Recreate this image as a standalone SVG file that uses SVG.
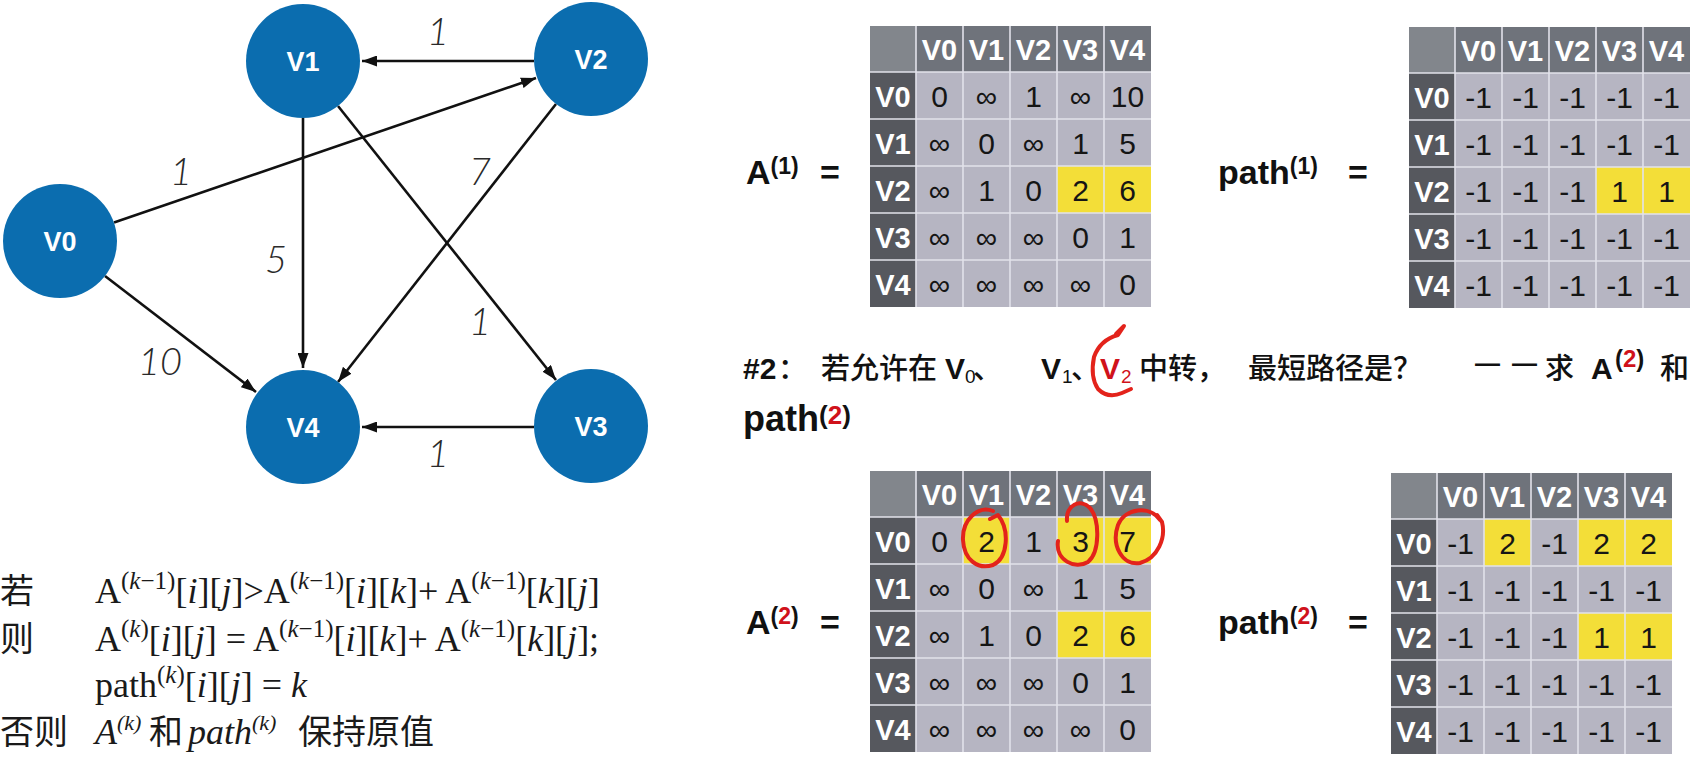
<svg xmlns="http://www.w3.org/2000/svg" width="1695" height="758" viewBox="0 0 1695 758">
<defs>
<style>
.node{fill:#0b6daf}
.nl{font-family:"Liberation Sans",Arial,sans-serif;font-weight:bold;font-size:27px;fill:#fff;text-anchor:middle}
.edge{stroke:#111;stroke-width:2.6;fill:none;marker-end:url(#arr)}
.el{font-family:Lato,"Liberation Sans",sans-serif;font-style:italic;font-weight:300;font-size:38px;fill:#2a2a2a;text-anchor:middle}
.cd{fill:#b6b5c2}.hd{fill:#6f737b}.cn{fill:#82868c}.rh{fill:#56585e}.yl{fill:#f3de38}
.grid{stroke:#e2e2ea;stroke-width:1.6;fill:none}
.th{font-family:"Liberation Sans",Arial,sans-serif;font-weight:bold;font-size:29px;fill:#fff;text-anchor:middle}
.td{font-family:"Liberation Sans","DejaVu Sans",sans-serif;font-size:30px;fill:#151515;text-anchor:middle}
.lb{font-family:"Liberation Sans",Arial,sans-serif;font-weight:bold;font-size:34px;fill:#111}
.sp{font-size:23px}
.qb{font-family:"Liberation Sans","Noto Sans CJK SC",sans-serif;font-weight:bold;font-size:30px;fill:#111}
.qs{font-family:"Liberation Sans",sans-serif;font-weight:normal;font-size:19px;fill:#111}
.qc{font-family:"Noto Sans CJK SC",sans-serif;font-weight:500;font-size:29px;fill:#111}
.sq{font-size:24px}
.m{font-family:"Liberation Serif","Times New Roman",serif;font-size:36px;fill:#1a1a1a}
.s{font-size:25px}
.s2{font-size:22px}
.i{font-style:italic}
.cj{font-family:"Noto Sans CJK SC",sans-serif;font-size:34px;fill:#1a1a1a}
.ann{stroke:#e3231b;stroke-width:4;fill:none;stroke-linecap:round;stroke-linejoin:round}
.red{fill:#d0121b}
</style>
<marker id="arr" markerUnits="userSpaceOnUse" markerWidth="15" markerHeight="11" refX="15" refY="5.5" orient="auto">
<path d="M0,0 L15,5.5 L0,11 z" fill="#111"/>
</marker>
<path id="gridp" d="M46 0V281M93 0V281M140 0V281M187 0V281M234 0V281M0 46H281M0 93H281M0 140H281M0 187H281M0 234H281"/>
</defs>
<rect width="1695" height="758" fill="#fff"/>

<g id="connectors">
<line class="edge" x1="534" y1="61" x2="362" y2="61"/>
<line class="edge" x1="534" y1="427" x2="362" y2="427"/>
<line class="edge" x1="303" y1="118" x2="303" y2="368"/>
<line class="edge" x1="114" y1="222.5" x2="536" y2="78"/>
<line class="edge" x1="105" y1="276" x2="256" y2="392"/>
<line class="edge" x1="338" y1="106" x2="556" y2="380"/>
<line class="edge" x1="556" y1="104" x2="338" y2="382"/>
<text class="el" x="438" y="45">1</text>
<text class="el" x="181" y="185">1</text>
<text class="el" x="276" y="273">5</text>
<text class="el" x="480" y="185">7</text>
<text class="el" x="160" y="375">10</text>
<text class="el" x="480" y="335">1</text>
<text class="el" x="438" y="467">1</text>
</g>

<g id="V0"><circle class="node" cx="60" cy="241" r="57"/><text class="nl" x="60" y="251">V0</text></g>
<g id="V1"><circle class="node" cx="303" cy="61" r="57"/><text class="nl" x="303" y="71">V1</text></g>
<g id="V2"><circle class="node" cx="591" cy="59" r="57"/><text class="nl" x="591" y="69">V2</text></g>
<g id="V3"><circle class="node" cx="591" cy="426" r="57"/><text class="nl" x="591" y="436">V3</text></g>
<g id="V4"><circle class="node" cx="303" cy="427" r="57"/><text class="nl" x="303" y="437">V4</text></g>

<g id="labelA1"><text class="lb" x="746" y="184">A<tspan class="sp" dy="-10">(1)</tspan></text><text class="lb" x="820" y="184">=</text></g>
<g id="labelP1"><text class="lb" x="1218" y="184">path<tspan class="sp" dy="-10">(1)</tspan></text><text class="lb" x="1348" y="184">=</text></g>
<g id="labelA2"><text class="lb" x="746" y="634">A<tspan class="sp" dy="-10">(</tspan><tspan class="sp red">2</tspan><tspan class="sp">)</tspan></text><text class="lb" x="820" y="634">=</text></g>
<g id="labelP2"><text class="lb" x="1218" y="634">path<tspan class="sp" dy="-10">(</tspan><tspan class="sp red">2</tspan><tspan class="sp">)</tspan></text><text class="lb" x="1348" y="634">=</text></g>

<g id="tableA1" transform="translate(870,26)">
<rect class="cd" x="46" y="46" width="235" height="235"/>
<rect class="hd" x="46" y="0" width="235" height="46"/>
<rect class="cn" x="0" y="0" width="46" height="46"/>
<rect class="rh" x="0" y="46" width="46" height="235"/>
<rect class="yl" x="187" y="140" width="47" height="47"/>
<rect class="yl" x="234" y="140" width="47" height="47"/>
<use href="#gridp" class="grid"/>
<text class="th" x="69.5" y="34">V0</text><text class="th" x="116.5" y="34">V1</text><text class="th" x="163.5" y="34">V2</text><text class="th" x="210.5" y="34">V3</text><text class="th" x="257.5" y="34">V4</text>
<text class="th" x="23" y="80.5">V0</text><text class="th" x="23" y="127.5">V1</text><text class="th" x="23" y="174.5">V2</text><text class="th" x="23" y="221.5">V3</text><text class="th" x="23" y="268.5">V4</text>
<text class="td" x="69.5" y="80.5">0</text><text class="td" x="116.5" y="80.5">∞</text><text class="td" x="163.5" y="80.5">1</text><text class="td" x="210.5" y="80.5">∞</text><text class="td" x="257.5" y="80.5">10</text>
<text class="td" x="69.5" y="127.5">∞</text><text class="td" x="116.5" y="127.5">0</text><text class="td" x="163.5" y="127.5">∞</text><text class="td" x="210.5" y="127.5">1</text><text class="td" x="257.5" y="127.5">5</text>
<text class="td" x="69.5" y="174.5">∞</text><text class="td" x="116.5" y="174.5">1</text><text class="td" x="163.5" y="174.5">0</text><text class="td" x="210.5" y="174.5">2</text><text class="td" x="257.5" y="174.5">6</text>
<text class="td" x="69.5" y="221.5">∞</text><text class="td" x="116.5" y="221.5">∞</text><text class="td" x="163.5" y="221.5">∞</text><text class="td" x="210.5" y="221.5">0</text><text class="td" x="257.5" y="221.5">1</text>
<text class="td" x="69.5" y="268.5">∞</text><text class="td" x="116.5" y="268.5">∞</text><text class="td" x="163.5" y="268.5">∞</text><text class="td" x="210.5" y="268.5">∞</text><text class="td" x="257.5" y="268.5">0</text>
</g>

<g id="tableP1" transform="translate(1409,27)">
<rect class="cd" x="46" y="46" width="235" height="235"/>
<rect class="hd" x="46" y="0" width="235" height="46"/>
<rect class="cn" x="0" y="0" width="46" height="46"/>
<rect class="rh" x="0" y="46" width="46" height="235"/>
<rect class="yl" x="187" y="140" width="47" height="47"/>
<rect class="yl" x="234" y="140" width="47" height="47"/>
<use href="#gridp" class="grid"/>
<text class="th" x="69.5" y="34">V0</text><text class="th" x="116.5" y="34">V1</text><text class="th" x="163.5" y="34">V2</text><text class="th" x="210.5" y="34">V3</text><text class="th" x="257.5" y="34">V4</text>
<text class="th" x="23" y="80.5">V0</text><text class="th" x="23" y="127.5">V1</text><text class="th" x="23" y="174.5">V2</text><text class="th" x="23" y="221.5">V3</text><text class="th" x="23" y="268.5">V4</text>
<text class="td" x="69.5" y="80.5">-1</text><text class="td" x="116.5" y="80.5">-1</text><text class="td" x="163.5" y="80.5">-1</text><text class="td" x="210.5" y="80.5">-1</text><text class="td" x="257.5" y="80.5">-1</text>
<text class="td" x="69.5" y="127.5">-1</text><text class="td" x="116.5" y="127.5">-1</text><text class="td" x="163.5" y="127.5">-1</text><text class="td" x="210.5" y="127.5">-1</text><text class="td" x="257.5" y="127.5">-1</text>
<text class="td" x="69.5" y="174.5">-1</text><text class="td" x="116.5" y="174.5">-1</text><text class="td" x="163.5" y="174.5">-1</text><text class="td" x="210.5" y="174.5">1</text><text class="td" x="257.5" y="174.5">1</text>
<text class="td" x="69.5" y="221.5">-1</text><text class="td" x="116.5" y="221.5">-1</text><text class="td" x="163.5" y="221.5">-1</text><text class="td" x="210.5" y="221.5">-1</text><text class="td" x="257.5" y="221.5">-1</text>
<text class="td" x="69.5" y="268.5">-1</text><text class="td" x="116.5" y="268.5">-1</text><text class="td" x="163.5" y="268.5">-1</text><text class="td" x="210.5" y="268.5">-1</text><text class="td" x="257.5" y="268.5">-1</text>
</g>

<g id="tableA2" transform="translate(870,471)">
<rect class="cd" x="46" y="46" width="235" height="235"/>
<rect class="hd" x="46" y="0" width="235" height="46"/>
<rect class="cn" x="0" y="0" width="46" height="46"/>
<rect class="rh" x="0" y="46" width="46" height="235"/>
<rect class="yl" x="93" y="46" width="47" height="47"/>
<rect class="yl" x="187" y="46" width="47" height="47"/>
<rect class="yl" x="234" y="46" width="47" height="47"/>
<rect class="yl" x="187" y="140" width="47" height="47"/>
<rect class="yl" x="234" y="140" width="47" height="47"/>
<use href="#gridp" class="grid"/>
<text class="th" x="69.5" y="34">V0</text><text class="th" x="116.5" y="34">V1</text><text class="th" x="163.5" y="34">V2</text><text class="th" x="210.5" y="34">V3</text><text class="th" x="257.5" y="34">V4</text>
<text class="th" x="23" y="80.5">V0</text><text class="th" x="23" y="127.5">V1</text><text class="th" x="23" y="174.5">V2</text><text class="th" x="23" y="221.5">V3</text><text class="th" x="23" y="268.5">V4</text>
<text class="td" x="69.5" y="80.5">0</text><text class="td" x="116.5" y="80.5">2</text><text class="td" x="163.5" y="80.5">1</text><text class="td" x="210.5" y="80.5">3</text><text class="td" x="257.5" y="80.5">7</text>
<text class="td" x="69.5" y="127.5">∞</text><text class="td" x="116.5" y="127.5">0</text><text class="td" x="163.5" y="127.5">∞</text><text class="td" x="210.5" y="127.5">1</text><text class="td" x="257.5" y="127.5">5</text>
<text class="td" x="69.5" y="174.5">∞</text><text class="td" x="116.5" y="174.5">1</text><text class="td" x="163.5" y="174.5">0</text><text class="td" x="210.5" y="174.5">2</text><text class="td" x="257.5" y="174.5">6</text>
<text class="td" x="69.5" y="221.5">∞</text><text class="td" x="116.5" y="221.5">∞</text><text class="td" x="163.5" y="221.5">∞</text><text class="td" x="210.5" y="221.5">0</text><text class="td" x="257.5" y="221.5">1</text>
<text class="td" x="69.5" y="268.5">∞</text><text class="td" x="116.5" y="268.5">∞</text><text class="td" x="163.5" y="268.5">∞</text><text class="td" x="210.5" y="268.5">∞</text><text class="td" x="257.5" y="268.5">0</text>
</g>

<g id="tableP2" transform="translate(1391,473)">
<rect class="cd" x="46" y="46" width="235" height="235"/>
<rect class="hd" x="46" y="0" width="235" height="46"/>
<rect class="cn" x="0" y="0" width="46" height="46"/>
<rect class="rh" x="0" y="46" width="46" height="235"/>
<rect class="yl" x="93" y="46" width="47" height="47"/>
<rect class="yl" x="187" y="46" width="47" height="47"/>
<rect class="yl" x="234" y="46" width="47" height="47"/>
<rect class="yl" x="187" y="140" width="47" height="47"/>
<rect class="yl" x="234" y="140" width="47" height="47"/>
<use href="#gridp" class="grid"/>
<text class="th" x="69.5" y="34">V0</text><text class="th" x="116.5" y="34">V1</text><text class="th" x="163.5" y="34">V2</text><text class="th" x="210.5" y="34">V3</text><text class="th" x="257.5" y="34">V4</text>
<text class="th" x="23" y="80.5">V0</text><text class="th" x="23" y="127.5">V1</text><text class="th" x="23" y="174.5">V2</text><text class="th" x="23" y="221.5">V3</text><text class="th" x="23" y="268.5">V4</text>
<text class="td" x="69.5" y="80.5">-1</text><text class="td" x="116.5" y="80.5">2</text><text class="td" x="163.5" y="80.5">-1</text><text class="td" x="210.5" y="80.5">2</text><text class="td" x="257.5" y="80.5">2</text>
<text class="td" x="69.5" y="127.5">-1</text><text class="td" x="116.5" y="127.5">-1</text><text class="td" x="163.5" y="127.5">-1</text><text class="td" x="210.5" y="127.5">-1</text><text class="td" x="257.5" y="127.5">-1</text>
<text class="td" x="69.5" y="174.5">-1</text><text class="td" x="116.5" y="174.5">-1</text><text class="td" x="163.5" y="174.5">-1</text><text class="td" x="210.5" y="174.5">1</text><text class="td" x="257.5" y="174.5">1</text>
<text class="td" x="69.5" y="221.5">-1</text><text class="td" x="116.5" y="221.5">-1</text><text class="td" x="163.5" y="221.5">-1</text><text class="td" x="210.5" y="221.5">-1</text><text class="td" x="257.5" y="221.5">-1</text>
<text class="td" x="69.5" y="268.5">-1</text><text class="td" x="116.5" y="268.5">-1</text><text class="td" x="163.5" y="268.5">-1</text><text class="td" x="210.5" y="268.5">-1</text><text class="td" x="257.5" y="268.5">-1</text>
</g>

<g id="question">
<text class="qb" x="743" y="379">#2<tspan class="qc" x="778">：</tspan><tspan class="qc" x="821">若允许在</tspan><tspan x="945">V</tspan><tspan class="qs" x="965" y="383">0</tspan><tspan class="qc" x="973" y="379">、</tspan><tspan x="1041">V</tspan><tspan class="qs" x="1062" y="383">1</tspan><tspan class="qc" x="1071" y="379">、</tspan><tspan class="red" x="1100">V</tspan><tspan class="qs red" x="1121" y="383">2</tspan><tspan class="qc" x="1139" y="379">中转，</tspan><tspan class="qc" x="1248">最短路径是？</tspan><tspan x="1475" y="372" style="font-size:25px;letter-spacing:12px">——</tspan><tspan class="qc" x="1545" y="379">求</tspan><tspan x="1591">A</tspan><tspan class="sq" x="1615" y="367">(</tspan><tspan class="sq red">2</tspan><tspan class="sq">)</tspan><tspan class="qc" x="1660" y="379">和</tspan></text>
<text class="qb" x="743" y="431" style="font-size:36px">path<tspan dy="-7" style="font-size:26px">(</tspan><tspan class="red" style="font-size:26px">2</tspan><tspan style="font-size:26px">)</tspan></text>
</g>

<g id="annotations">
<path class="ann" d="M1116 334 L1124 326 L1118 335 Q1100 340 1094 357 Q1090 377 1098 389 Q1108 399 1122 393 L1131 389"/>
<path class="ann" d="M993 511 C978 505 962 520 963 540 C964 560 978 570 993 565 C1008 558 1010 530 998 515 L990 519"/>
<path class="ann" d="M1067 521 C1066 505 1080 498 1090 508 C1100 520 1100 552 1088 562 C1075 570 1055 560 1058 541"/>
<path class="ann" d="M1160 520 C1150 505 1125 508 1118 525 C1111 545 1122 566 1140 563 C1158 558 1166 538 1162 522 L1157 515"/>
</g>

<g id="formula">
<text class="cj" x="0" y="603">若</text>
<text class="m" x="95" y="603">A<tspan class="s" dy="-14">(</tspan><tspan class="s i">k</tspan><tspan class="s">−1)</tspan><tspan dy="14">[</tspan><tspan class="i">i</tspan>][<tspan class="i">j</tspan>]&gt;A<tspan class="s" dy="-14">(</tspan><tspan class="s i">k</tspan><tspan class="s">−1)</tspan><tspan dy="14">[</tspan><tspan class="i">i</tspan>][<tspan class="i">k</tspan>]+ A<tspan class="s" dy="-14">(</tspan><tspan class="s i">k</tspan><tspan class="s">−1)</tspan><tspan dy="14">[</tspan><tspan class="i">k</tspan>][<tspan class="i">j</tspan>]</text>
<text class="cj" x="0" y="651">则</text>
<text class="m" x="95" y="651">A<tspan class="s" dy="-14">(</tspan><tspan class="s i">k</tspan><tspan class="s">)</tspan><tspan dy="14">[</tspan><tspan class="i">i</tspan>][<tspan class="i">j</tspan>] = A<tspan class="s" dy="-14">(</tspan><tspan class="s i">k</tspan><tspan class="s">−1)</tspan><tspan dy="14">[</tspan><tspan class="i">i</tspan>][<tspan class="i">k</tspan>]+ A<tspan class="s" dy="-14">(</tspan><tspan class="s i">k</tspan><tspan class="s">−1)</tspan><tspan dy="14">[</tspan><tspan class="i">k</tspan>][<tspan class="i">j</tspan>];</text>
<text class="m" x="95" y="697">path<tspan class="s" dy="-14">(</tspan><tspan class="s i">k</tspan><tspan class="s">)</tspan><tspan dy="14">[</tspan><tspan class="i">i</tspan>][<tspan class="i">j</tspan>] = <tspan class="i">k</tspan></text>
<text class="cj" x="0" y="744">否则</text>
<text class="m i" x="95" y="744">A<tspan class="s2" dy="-14">(k)</tspan></text>
<text class="cj" x="149" y="744">和</text>
<text class="m i" x="188" y="744">path<tspan class="s2" dy="-14">(k)</tspan></text>
<text class="cj" x="298" y="744">保持原值</text>
</g>
</svg>
